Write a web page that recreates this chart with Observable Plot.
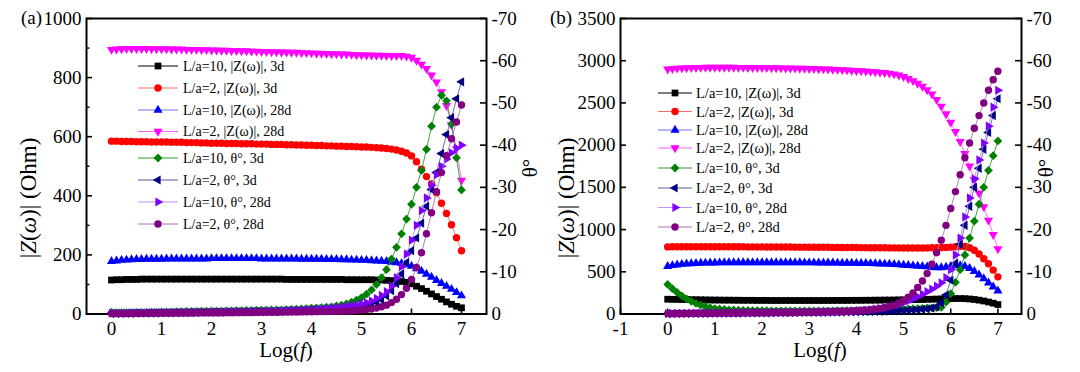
<!DOCTYPE html>
<html><head><meta charset="utf-8">
<script src="https://cdn.jsdelivr.net/npm/d3@7"></script>
<script src="https://cdn.jsdelivr.net/npm/@observablehq/plot@0.6"></script>
<style>
html,body{margin:0;padding:0;background:#fff;}
#chart{position:relative;width:1080px;height:372px;overflow:hidden;font-family:"Liberation Serif",serif;}
#chart svg{position:absolute;top:0;}
</style></head><body><div id="chart"></div>
<script>
// ---------- data ----------
const logF = [0,0.1,0.2,0.3,0.4,0.5,0.6,0.7,0.8,0.9,
 1,1.1,1.2,1.3,1.4,1.5,1.6,1.7,1.8,1.9,
 2,2.1,2.2,2.3,2.4,2.5,2.6,2.7,2.8,2.9,
 3,3.1,3.2,3.3,3.4,3.5,3.6,3.7,3.8,3.9,
 4,4.1,4.2,4.3,4.4,4.5,4.6,4.7,4.8,4.9,
 5,5.1,5.2,5.3,5.4,5.5,5.6,5.7,5.8,5.9,
 6,6.1,6.2,6.3,6.4,6.5,6.6,6.7,6.8,6.9,7];

// panel (a) |Z| (Ohm)
const aZ10_3d = [115,116,116,117,117,117,118,118,118,118,
 118,118,118,118,118,118,118,118,118,118,
 118,118,118,118,118,118,118,118,118,118,
 118,118,118,118,118,117,117,117,117,117,
 117,117,117,117,117,117,117,116,116,116,
 116,116,116,115,115,114,113,112,110,107,
 102,94,86,77,68,59,50,41,33,26,21];
const aZ2_3d = [585,585,584,584,584,583,583,583,582,582,
 582,582,581,581,581,580,580,580,579,579,
 578,578,578,577,577,577,576,576,576,575,
 575,575,574,574,574,573,573,572,572,571,
 571,570,570,569,569,568,568,567,567,566,
 565,565,564,563,562,560,558,555,551,545,
 535,515,490,465,440,410,375,340,302,258,214];
const aZ10_28d = [178,180,182,183,184,185,185,186,186,186,
 186,187,187,187,187,187,187,187,187,187,
 188,188,188,188,188,188,188,188,188,188,
 187,187,187,187,187,187,187,187,186,186,
 186,186,186,185,185,185,184,184,183,183,
 182,182,181,180,179,178,176,174,171,167,
 162,154,145,135,125,114,104,94,84,73,62];
const aZ2_28d = [895,896,897,898,898,898,898,898,897,897,
 897,897,896,896,896,895,895,895,894,894,
 893,893,892,892,891,891,890,890,889,889,
 888,888,887,887,886,886,885,885,884,884,
 883,882,882,881,880,880,879,879,878,877,
 877,876,876,875,875,874,874,874,874,872,
 868,858,845,830,808,785,752,705,640,560,452];
// panel (a) theta (deg)
const aT10_3d = [-0.3,-0.3,-0.3,-0.35,-0.35,-0.4,-0.4,-0.4,-0.45,-0.45,
 -0.5,-0.5,-0.5,-0.55,-0.55,-0.6,-0.6,-0.6,-0.65,-0.65,
 -0.7,-0.7,-0.7,-0.75,-0.75,-0.8,-0.8,-0.85,-0.85,-0.9,
 -0.9,-0.92,-0.95,-0.98,-1.0,-1.05,-1.1,-1.15,-1.2,-1.3,
 -1.4,-1.45,-1.5,-1.6,-1.7,-1.9,-2.1,-2.4,-2.8,-3.3,
 -3.9,-4.7,-5.7,-7,-8.6,-10.5,-13,-15.8,-19,-22.5,
 -26,-30,-34,-39,-44.5,-49,-51.8,-50.5,-45,-37,-29.4];
const aT2_3d = [-0.1,-0.1,-0.12,-0.14,-0.15,-0.17,-0.18,-0.2,-0.2,-0.22,
 -0.24,-0.25,-0.26,-0.28,-0.3,-0.3,-0.32,-0.34,-0.35,-0.36,
 -0.38,-0.4,-0.4,-0.42,-0.44,-0.45,-0.46,-0.48,-0.5,-0.5,
 -0.52,-0.54,-0.55,-0.57,-0.6,-0.62,-0.65,-0.68,-0.7,-0.75,
 -0.8,-0.85,-0.9,-0.95,-1.0,-1.1,-1.2,-1.3,-1.45,-1.6,
 -1.8,-2.0,-2.3,-2.8,-3.4,-4.3,-5.5,-7.2,-9.5,-12.2,
 -15,-18,-21.5,-25.5,-29.5,-33.5,-38,-42.5,-46.5,-51,-55];
const aT10_28d = [-0.2,-0.2,-0.22,-0.24,-0.25,-0.27,-0.28,-0.3,-0.3,-0.32,
 -0.34,-0.35,-0.36,-0.38,-0.4,-0.4,-0.42,-0.44,-0.45,-0.46,
 -0.48,-0.5,-0.5,-0.52,-0.54,-0.55,-0.57,-0.6,-0.6,-0.62,
 -0.65,-0.68,-0.7,-0.72,-0.75,-0.8,-0.85,-0.9,-0.95,-1.0,
 -1.05,-1.1,-1.2,-1.3,-1.4,-1.5,-1.65,-1.8,-2.0,-2.2,
 -2.4,-2.7,-3.1,-3.7,-4.4,-5.3,-6.6,-8.6,-11.2,-14.2,
 -17.5,-21,-24.5,-27.5,-30.5,-33,-35,-36.7,-38.2,-39.3,-40];
const aT2_28d = [-0.1,-0.1,-0.1,-0.12,-0.12,-0.14,-0.15,-0.16,-0.17,-0.18,
 -0.2,-0.2,-0.2,-0.22,-0.22,-0.24,-0.25,-0.26,-0.27,-0.28,
 -0.3,-0.3,-0.3,-0.32,-0.32,-0.34,-0.35,-0.36,-0.37,-0.38,
 -0.4,-0.4,-0.42,-0.43,-0.44,-0.45,-0.47,-0.48,-0.5,-0.52,
 -0.54,-0.56,-0.58,-0.6,-0.62,-0.65,-0.68,-0.72,-0.78,-0.85,
 -0.95,-1.05,-1.2,-1.4,-1.7,-2.1,-2.7,-3.5,-4.6,-6.1,
 -8.2,-11,-14.5,-19,-24,-29,-33.5,-37.5,-41.5,-45.5,-49.5];

// panel (b) |Z| (Ohm)
const bZ10_3d = [175,174,173,172,171,170,169,168,167,166,
 165,165,164,164,163,163,162,162,162,161,
 161,161,160,160,160,160,160,160,160,160,
 160,160,160,160,160,161,161,161,161,162,
 162,162,163,163,164,164,165,165,166,167,
 168,169,170,171,172,174,175,177,178,180,
 182,183,183,182,178,172,164,154,142,128,112];
const bZ2_3d = [795,796,796,797,797,797,797,797,797,797,
 797,797,797,796,796,796,796,795,795,795,
 795,794,794,794,793,793,793,792,792,792,
 791,791,790,790,790,789,789,788,788,787,
 787,786,786,785,785,784,784,783,783,783,
 782,782,782,782,782,783,784,785,787,789,
 792,797,802,800,785,755,710,655,595,520,440];
const bZ10_28d = [565,575,583,590,595,598,601,603,605,606,
 607,608,609,609,610,610,610,610,610,610,
 610,610,610,610,610,610,609,609,609,608,
 608,608,607,607,606,606,605,604,604,603,
 602,601,600,599,597,595,593,591,588,584,
 580,576,572,568,564,560,553,550,550,555,
 565,572,575,565,540,505,465,420,370,322,275];
const bZ2_28d = [2900,2905,2910,2913,2915,2917,2918,2919,2920,2920,
 2920,2920,2920,2920,2920,2919,2919,2918,2918,2917,
 2917,2916,2915,2914,2913,2912,2911,2910,2909,2908,
 2906,2905,2903,2901,2899,2897,2895,2892,2889,2886,
 2883,2880,2876,2872,2868,2863,2858,2851,2842,2828,
 2810,2788,2762,2732,2696,2655,2605,2540,2460,2370,
 2270,2160,2040,1900,1750,1590,1430,1270,1110,940,770];
// panel (b) theta (deg)
const bT10_3d = [-7.0,-6.0,-5.1,-4.3,-3.6,-3.0,-2.5,-2.1,-1.8,-1.5,
 -1.3,-1.2,-1.1,-1.0,-0.95,-0.9,-0.88,-0.85,-0.82,-0.8,
 -0.78,-0.77,-0.76,-0.75,-0.75,-0.74,-0.74,-0.73,-0.73,-0.73,
 -0.73,-0.73,-0.74,-0.74,-0.75,-0.76,-0.77,-0.78,-0.8,-0.82,
 -0.84,-0.86,-0.88,-0.9,-0.93,-0.96,-1.0,-1.03,-1.07,-1.1,
 -1.15,-1.2,-1.25,-1.3,-1.35,-1.4,-1.45,-1.5,-1.6,-2.8,
 -4.8,-7.5,-10.5,-14,-18,-22,-26,-30,-34,-37.5,-41];
const bT2_3d = [-0.1,-0.1,-0.1,-0.12,-0.12,-0.14,-0.14,-0.15,-0.16,-0.17,
 -0.18,-0.19,-0.2,-0.2,-0.21,-0.22,-0.23,-0.24,-0.25,-0.26,
 -0.27,-0.28,-0.29,-0.3,-0.31,-0.32,-0.33,-0.34,-0.35,-0.36,
 -0.37,-0.38,-0.39,-0.4,-0.41,-0.42,-0.44,-0.46,-0.48,-0.5,
 -0.52,-0.54,-0.56,-0.58,-0.6,-0.63,-0.66,-0.7,-0.74,-0.78,
 -0.83,-0.88,-0.94,-1.0,-1.1,-1.2,-1.4,-1.7,-2.6,-4.5,
 -8,-12,-16.5,-21,-25.5,-30,-34.5,-39,-43,-47,-51];
const bT10_28d = [-0.1,-0.1,-0.12,-0.14,-0.15,-0.16,-0.17,-0.18,-0.2,-0.2,
 -0.21,-0.22,-0.23,-0.24,-0.25,-0.26,-0.27,-0.28,-0.29,-0.3,
 -0.31,-0.32,-0.33,-0.34,-0.35,-0.36,-0.37,-0.38,-0.4,-0.41,
 -0.42,-0.44,-0.46,-0.48,-0.5,-0.52,-0.55,-0.58,-0.62,-0.66,
 -0.72,-0.8,-0.9,-1.0,-1.15,-1.3,-1.5,-1.75,-2.0,-2.3,
 -2.7,-3.1,-3.6,-4.1,-4.7,-5.3,-5.9,-6.6,-7.4,-8.6,
 -10.5,-14,-18,-23,-27.5,-32,-36.5,-40.5,-44.5,-49,-53];
const bT2_28d = [-0.1,-0.1,-0.12,-0.13,-0.14,-0.15,-0.16,-0.17,-0.18,-0.19,
 -0.2,-0.21,-0.22,-0.23,-0.24,-0.25,-0.26,-0.27,-0.28,-0.29,
 -0.3,-0.31,-0.32,-0.33,-0.34,-0.35,-0.36,-0.37,-0.38,-0.4,
 -0.42,-0.44,-0.46,-0.48,-0.5,-0.53,-0.56,-0.6,-0.65,-0.7,
 -0.76,-0.83,-0.92,-1.02,-1.15,-1.3,-1.5,-1.75,-2.1,-2.6,
 -3.2,-4.0,-5.0,-6.3,-7.8,-9.6,-11.8,-14.5,-17.5,-21,
 -25,-29,-33,-37,-40.5,-44,-47,-50,-53,-55.5,-57.5];

const seriesLabels = ["L/a=10, |Z(ω)|, 3d","L/a=2, |Z(ω)|, 3d","L/a=10, |Z(ω)|, 28d","L/a=2, |Z(ω)|, 28d",
  "L/a=10, θ°, 3d","L/a=2, θ°, 3d","L/a=10, θ°, 28d","L/a=2, θ°, 28d"];
const xTicksA = [0,1,2,3,4,5,6,7];
const xTicksB = [-1,0,1,2,3,4,5,6,7];
const zTicksA = [0,200,400,600,800,1000];
const zMinorA = [100,300,500,700,900];
const zTicksB = [0,500,1000,1500,2000,2500,3000,3500];
const thTicks = [0,-10,-20,-30,-40,-50,-60,-70];

// ---------- symbols & styles ----------
const s3 = Math.sqrt(3);
const triUp = d3.symbolTriangle;
const triDown = {draw(c,s){const y=-Math.sqrt(s/(s3*3)); c.moveTo(0,-2*y); c.lineTo(-s3*y,y); c.lineTo(s3*y,y); c.closePath();}};
const triLeft = {draw(c,s){const y=-Math.sqrt(s/(s3*3)); c.moveTo(2*y,0); c.lineTo(-y,s3*y); c.lineTo(-y,-s3*y); c.closePath();}};
const triRight = {draw(c,s){const y=-Math.sqrt(s/(s3*3)); c.moveTo(-2*y,0); c.lineTo(y,s3*y); c.lineTo(y,-s3*y); c.closePath();}};
const diamond = {draw(c,s){const a=Math.sqrt(s/2); c.moveTo(0,-a); c.lineTo(a,0); c.lineTo(0,a); c.lineTo(-a,0); c.closePath();}};

const styles = [
  {fill:"#000000", line:"#000000", sym:d3.symbolSquare, r:3.8},
  {fill:"#ff0000", line:"#ff6a6a", sym:d3.symbolCircle, r:3.7},
  {fill:"#0000ff", line:"#7070ff", sym:triUp, r:3.4},
  {fill:"#ff00ff", line:"#ff60ff", sym:triDown, r:3.4},
  {fill:"#008000", line:"#2a9a2a", sym:diamond, r:3.5},
  {fill:"#000080", line:"#5a5aa0", sym:triLeft, r:3.4},
  {fill:"#8000ff", line:"#c090ff", sym:triRight, r:3.4},
  {fill:"#800080", line:"#b070b0", sym:d3.symbolCircle, r:3.7}
];

function seriesMarks(list, offset){
  const marks = [];
  list.forEach((vals, k) => {
    const st = styles[offset + k];
    const data = logF.map((x, i) => ({x, y: vals[i]}));
    marks.push(Plot.line(data, {x:"x", y:"y", stroke: st.line, strokeWidth: 0.9}));
    marks.push(Plot.dot(data, {x:"x", y:"y", symbol: st.sym, r: st.r, fill: st.fill, stroke: "none"}));
  });
  return marks;
}

const chart = document.getElementById("chart");
const W = 540, H = 372, mT = 18, mB = 58.5;
const fontStyle = {fontFamily:"Liberation Serif", fontSize:"19px", background:"transparent", overflow:"visible", color:"#000"};

function panel(p){
  const fw = W - p.mL - p.mR, fh = H - mT - mB;
  const common = {width:W, height:H, marginLeft:p.mL, marginRight:p.mR, marginTop:mT, marginBottom:mB, style:fontStyle};
  const zPlot = Plot.plot({...common, x:{domain:p.xDomain, label:null}, y:{domain:p.zDomain, label:null}, marks:[
    ...seriesMarks(p.z, 0),
    Plot.tickY(p.zTicks, {y:d=>d, insetRight: fw-6, stroke:"#000", strokeWidth:1.6}),
    p.zMinor ? Plot.tickY(p.zMinor, {y:d=>d, insetRight: fw-3.5, stroke:"#000", strokeWidth:1.4}) : null,
    Plot.tickX(p.xTicks, {x:d=>d, insetTop: fh-5, stroke:"#000", strokeWidth:1.6}),
    Plot.axisX(p.xTicks, {tickSize:0, tickPadding:7, tickFormat:d=>String(d), fontSize:19, label:null}),
    Plot.axisY(p.zTicks, {anchor:"left", tickSize:0, tickPadding:5, tickFormat:d=>String(d), fontSize:19, label:null}),
    Plot.frame({stroke:"#000", strokeWidth:2})
  ]});
  const tPlot = Plot.plot({...common, x:{domain:p.xDomain, label:null, axis:null}, y:{domain:[0,-70], label:null}, marks:[
    ...seriesMarks(p.t, 4),
    Plot.tickY(thTicks, {y:d=>d, insetLeft: fw-6, stroke:"#000", strokeWidth:1.6}),
    Plot.axisY(thTicks, {anchor:"right", tickSize:0, tickPadding:5, tickFormat:d=>String(d), fontSize:19, label:null})
  ]});
  zPlot.style.left = p.left + "px";
  tPlot.style.left = p.left + "px";
  chart.appendChild(zPlot);
  chart.appendChild(tPlot);
}

panel({left:0, mL:86, mR:54, xDomain:[-0.5,7.5], xTicks:xTicksA, zDomain:[0,1000], zTicks:zTicksA, zMinor:zMinorA,
  z:[aZ10_3d,aZ2_3d,aZ10_28d,aZ2_28d], t:[aT10_3d,aT2_3d,aT10_28d,aT2_28d]});
panel({left:540, mL:80, mR:59, xDomain:[-1,7.5], xTicks:xTicksB, zDomain:[0,3500], zTicks:zTicksB, zMinor:null,
  z:[bZ10_3d,bZ2_3d,bZ10_28d,bZ2_28d], t:[bT10_3d,bT2_3d,bT10_28d,bT2_28d]});

// ---------- titles & legends ----------
const svg = d3.select(chart).append("svg").attr("width",1080).attr("height",372)
  .style("left","0px").style("font-family","Liberation Serif");
svg.append("text").attr("x",21).attr("y",24).attr("font-size",19).text("(a)");
svg.append("text").attr("x",550).attr("y",24).attr("font-size",19).text("(b)");
function xTitle(cx){
  const t = svg.append("text").attr("x",cx).attr("y",357).attr("font-size",21).attr("text-anchor","middle");
  t.append("tspan").text("Log(");
  t.append("tspan").attr("font-style","italic").text("f");
  t.append("tspan").text(")");
}
xTitle(286); xTitle(820);
function yTitle(x, y){
  const t = svg.append("text").attr("transform",`translate(${x},${y}) rotate(-90)`).attr("font-size",23).attr("text-anchor","middle");
  t.append("tspan").text("|");
  t.append("tspan").attr("font-style","italic").text("Z");
  t.append("tspan").text("(");
  t.append("tspan").attr("font-style","italic").text("ω");
  t.append("tspan").text(")| (Ohm)");
}
yTitle(36,198); yTitle(574,198);
function thTitle(x, y){
  svg.append("text").attr("transform",`translate(${x},${y}) rotate(-90)`).attr("font-size",21).attr("text-anchor","middle").text("θ°");
}
thTitle(537,168); thTitle(1053,168);

function legend(rows, x1, x2, tx, fs){
  rows.forEach((ry, k) => {
    const st = styles[k];
    svg.append("line").attr("x1",x1).attr("x2",x2).attr("y1",ry).attr("y2",ry).attr("stroke",st.line).attr("stroke-width",1);
    const size = Math.PI*st.r*st.r;
    svg.append("path").attr("d", d3.symbol(st.sym, size)()).attr("transform",`translate(${(x1+x2)/2},${ry})`).attr("fill",st.fill);
    svg.append("text").attr("x",tx).attr("y",ry).attr("dy","0.35em").attr("font-size",fs).text(seriesLabels[k]);
  });
}
legend([66,88,110,131.5,158,180,202,224], 138, 178, 183, 14);
legend([93,111.5,130,148,168,188,207.5,227], 658, 692, 696, 14.5);
</script></body></html>
